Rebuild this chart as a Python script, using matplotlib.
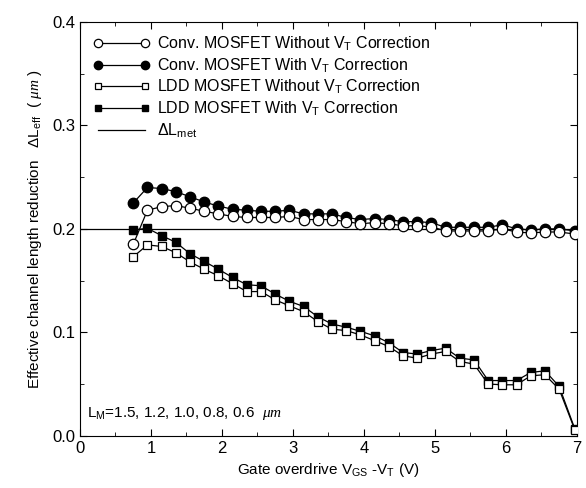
import matplotlib
matplotlib.use("Agg")
import matplotlib.pyplot as plt
from matplotlib.ticker import MultipleLocator

plt.rcParams['font.family'] = ['Liberation Sans', 'DejaVu Sans']
plt.rcParams['mathtext.fontset'] = 'custom'
plt.rcParams['mathtext.rm'] = 'Liberation Sans'
plt.rcParams['mathtext.it'] = 'Liberation Serif:italic'

# gate overdrive (V)
vg = [0.75, 0.95, 1.15, 1.35, 1.55, 1.75, 1.95, 2.15, 2.35, 2.55, 2.75,
      2.95, 3.15, 3.35, 3.55, 3.75, 3.95, 4.15, 4.35, 4.55, 4.75, 4.95,
      5.15, 5.35, 5.55, 5.75, 5.95, 6.15, 6.35, 6.55, 6.75, 6.97]

# Delta L_eff (um)
conv_no_vt = [0.185, 0.218, 0.2215, 0.2225, 0.220, 0.217, 0.2145, 0.212, 0.211, 0.211, 0.211,
              0.212, 0.209, 0.209, 0.209, 0.207, 0.205, 0.206, 0.205, 0.203, 0.203, 0.202,
              0.198, 0.198, 0.198, 0.198, 0.200, 0.197, 0.196, 0.197, 0.197, 0.195]
conv_vt = [0.225, 0.240, 0.239, 0.236, 0.231, 0.226, 0.222, 0.219, 0.218, 0.217, 0.217,
           0.218, 0.2145, 0.2145, 0.2145, 0.211, 0.209, 0.210, 0.209, 0.207, 0.207, 0.206,
           0.2015, 0.2015, 0.2015, 0.2015, 0.204, 0.200, 0.199, 0.200, 0.200, 0.198]
ldd_no_vt = [0.173, 0.1845, 0.183, 0.177, 0.168, 0.161, 0.1546, 0.147, 0.1394, 0.1394, 0.1314,
             0.1256, 0.120, 0.1104, 0.103, 0.1017, 0.0975, 0.092, 0.0863, 0.0773, 0.075, 0.079,
             0.0815, 0.0718, 0.0693, 0.050, 0.0493, 0.0493, 0.058, 0.059, 0.045, 0.0058]
ldd_vt = [0.199, 0.2005, 0.1935, 0.187, 0.176, 0.1685, 0.161, 0.153, 0.146, 0.145, 0.137,
          0.130, 0.125, 0.115, 0.108, 0.105, 0.101, 0.0966, 0.090, 0.0805, 0.079, 0.0824,
          0.0847, 0.075, 0.0734, 0.0534, 0.0534, 0.0534, 0.0612, 0.0628, 0.0477, 0.0068]
dl_met = 0.2

fig = plt.figure(figsize=(5.86, 4.88), dpi=100)
ax = fig.add_axes([0.1365, 0.107, 0.848, 0.848])

ax.axhline(dl_met, color='black', lw=0.9, label=r'$\Delta$L$_{\rm met}$', zorder=1)
ax.plot(vg, conv_no_vt, '-o', color='black', mfc='white', mec='black', ms=7.5, mew=0.9, lw=0.9,
        label=r'Conv. MOSFET Without V$_{\rm T}$ Correction', zorder=3)
ax.plot(vg, conv_vt, '-o', color='black', mfc='black', ms=7.5, lw=0.9,
        label=r'Conv. MOSFET With V$_{\rm T}$ Correction', zorder=2)
ax.plot(vg, ldd_no_vt, '-s', color='black', mfc='white', mec='black', ms=5.5, mew=0.9, lw=0.9,
        label=r'LDD MOSFET Without V$_{\rm T}$ Correction', zorder=3)
ax.plot(vg, ldd_vt, '-s', color='black', mfc='black', ms=5.5, lw=0.9,
        label=r'LDD MOSFET With V$_{\rm T}$ Correction', zorder=2)

ax.set_xlim(0, 7)
ax.set_ylim(0, 0.4)
ax.xaxis.set_major_locator(MultipleLocator(1))
ax.xaxis.set_minor_locator(MultipleLocator(0.5))
ax.yaxis.set_major_locator(MultipleLocator(0.1))
ax.yaxis.set_minor_locator(MultipleLocator(0.05))
ax.yaxis.set_major_formatter(matplotlib.ticker.FormatStrFormatter('%.1f'))
ax.tick_params(which='both', direction='in', top=True, right=True, labelsize=12)
ax.tick_params(which='major', length=5)
ax.tick_params(which='minor', length=3)

ax.set_xlabel(r'Gate overdrive V$_{\rm GS}$ -V$_{\rm T}$ (V)', fontsize=11, labelpad=4)
ax.set_ylabel(r'Effective channel length reduction   $\Delta$L$_{\rm eff}$  ( $\mu m$ )',
              fontsize=11, labelpad=6)

ax.text(0.1, 0.022, r'L$_{\rm M}$=1.5, 1.2, 1.0, 0.8, 0.6  $\mu m$', fontsize=11, va='center')

handles, labels = ax.get_legend_handles_labels()
order = [1, 2, 3, 4, 0]
ax.legend([handles[i] for i in order], [labels[i] for i in order], loc='upper left',
          frameon=False, numpoints=2, fontsize=11.5, handlelength=3.6, handletextpad=0.4,
          labelspacing=0.2, borderaxespad=0.4, markerscale=0.8)

fig.savefig('out.png', dpi=100)
